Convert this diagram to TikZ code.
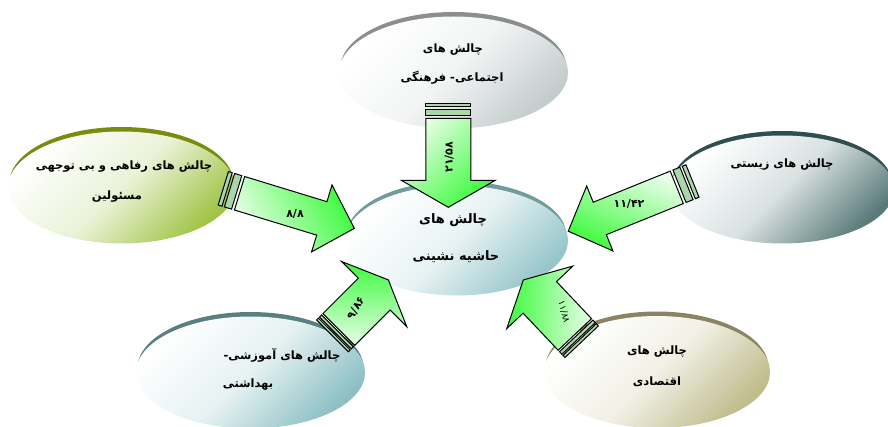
\documentclass[tikz,border=0pt]{standalone}
\usepackage{fontspec}
\usetikzlibrary{shapes.geometric}
\newfontfamily\fa[Script=Arabic]{DejaVu Sans}
\TeXXeTstate=1
\definecolor{agreen}{RGB}{60,250,60}
\definecolor{stripecol}{RGB}{170,215,170}
\definecolor{rimtop}{RGB}{140,142,142}
\definecolor{filltop}{RGB}{196,204,204}
\definecolor{rimctr}{RGB}{112,156,158}
\definecolor{fillctr}{RGB}{150,198,202}
\definecolor{rimleft}{RGB}{122,140,14}
\definecolor{fillleft}{RGB}{160,196,70}
\definecolor{rimright}{RGB}{47,79,79}
\definecolor{fillright}{RGB}{90,122,122}
\definecolor{rimbl}{RGB}{90,127,128}
\definecolor{fillbl}{RGB}{140,192,196}
\definecolor{rimbr}{RGB}{138,132,98}
\definecolor{fillbr}{RGB}{192,188,140}
\newcommand\mkell[7]{%
  \node[ell, fill=#6, minimum width=2*#4-3, minimum height=2*#5] (#1rim) at (#2,#3+4.5) {};
  \node[ell, top color=white, bottom color=#7, middle color=white!78!#7, shading angle=45,
        minimum width=2*#4, minimum height=2*#5] (#1) at (#2,#3) {};}
\newcommand\arrbody[6]{%
  \path[arr, top color=agreen!12!white, bottom color=agreen, shading angle=#6]
    (#5,-#2) -- (#1-#4,-#2) -- (#1-#4,-#3) -- (#1,0) -- (#1-#4,#3) -- (#1-#4,#2) -- (#5,#2) -- cycle;}
\newcommand\arrstripes[4]{%
  \path[arr, fill=stripecol] (0,-#1) rectangle (#2,#1);
  \path[arr, fill=stripecol] (#3,-#1) rectangle (#4,#1);}
\begin{document}
\begin{tikzpicture}[x=1pt,y=1pt,
  ell/.style={ellipse, inner sep=0pt, draw=none},
  ftxt/.style={font=\fa\bfseries\fontsize{11.5}{13}\selectfont, inner sep=0pt},
  ctxt/.style={font=\fa\bfseries\fontsize{13}{15}\selectfont, inner sep=0pt},
  numtxt/.style={font=\fa\bfseries\fontsize{11}{13}\selectfont, inner sep=0pt},
  thintxt/.style={font=\fa\fontsize{9}{11}\selectfont, inner sep=0pt},
  arr/.style={draw=black, line width=1pt, line join=miter},
]
\useasboundingbox (0,0) rectangle (888,426);
\clip (0,0) rectangle (888,426);
% ellipses
\mkell{etop}{453.5}{353.5}{114.5}{56}{rimtop}{filltop}
\mkell{ectr}{456.5}{185.5}{111.5}{55}{rimctr}{fillctr}
\mkell{eleft}{121.5}{238.5}{113.5}{56}{rimleft}{fillleft}
\mkell{eright}{782}{236.5}{112}{54}{rimright}{fillright}
\mkell{ebl}{250.5}{53.5}{114.5}{56}{rimbl}{fillbl}
\mkell{ebr}{657}{54}{113}{56}{rimbr}{fillbr}
% arrows
\begin{scope}[shift={(448.3,322.7)}, rotate=-90]
  \arrstripes{22.5}{3.3}{6}{12.7}
  \arrbody{104}{22.5}{47}{27}{15}{45}
\end{scope}
\begin{scope}[shift={(223.3,237.7)}, rotate=-17]
  \arrstripes{17.5}{4}{6.5}{14}
  \arrbody{137}{17.5}{35}{34}{17}{118}
\end{scope}
\begin{scope}[shift={(692.5,245)}, rotate=202]
  \arrstripes{17.5}{4}{6.5}{14}
  \arrbody{134}{17.5}{35}{34}{17}{337}
\end{scope}
\begin{scope}[shift={(332.5,90.2)}, rotate=45]
  \arrstripes{22.5}{2.5}{4}{7}
  \arrbody{79}{22.5}{46}{20}{9}{180}
\end{scope}
\begin{scope}[shift={(581.7,84.3)}, rotate=133.4]
  \arrstripes{23}{3}{4.5}{8}
  \arrbody{85}{23}{45.5}{24}{10}{268}
\end{scope}
% arrow labels
\node[numtxt, rotate=90] (ltop) at (449,269) {۲۱/۵۸};
\node[numtxt] (lleft) at (295,212) {۸/۸};
\node[numtxt] (lright) at (629,222) {۱۱/۴۲};
\node[numtxt, rotate=60] (lbl) at (356,118) {۹/۸۶};
\node[thintxt, rotate=-75] (lbr) at (564,114) {۱۱/۸۸};
% texts
\node[ftxt] (ttop1) at (453,376) {\beginR چالش های\endR};
\node[ftxt] (ttop2) at (452,348) {\beginR اجتماعی- فرهنگی\endR};
\node[ftxt] (tleft1) at (124,259) {\beginR چالش های رفاهی و بی توجهی\endR};
\node[ftxt] (tleft2) at (117,229) {\beginR مسئولین\endR};
\node[ftxt] (tright) at (782,261) {\beginR چالش های زیستی\endR};
\node[ctxt] (tctr1) at (453,206) {\beginR چالش های\endR};
\node[ctxt] (tctr2) at (456,169) {\beginR حاشیه نشینی\endR};
\node[ftxt] (tbl1) at (282,71) {\beginR چالش های آموزشی-\endR};
\node[ftxt] (tbl2) at (248,41) {\beginR بهداشتی\endR};
\node[ftxt] (tbr1) at (657,74) {\beginR چالش های\endR};
\node[ftxt] (tbr2) at (657,44) {\beginR اقتصادی\endR};
\end{tikzpicture}
\end{document}
